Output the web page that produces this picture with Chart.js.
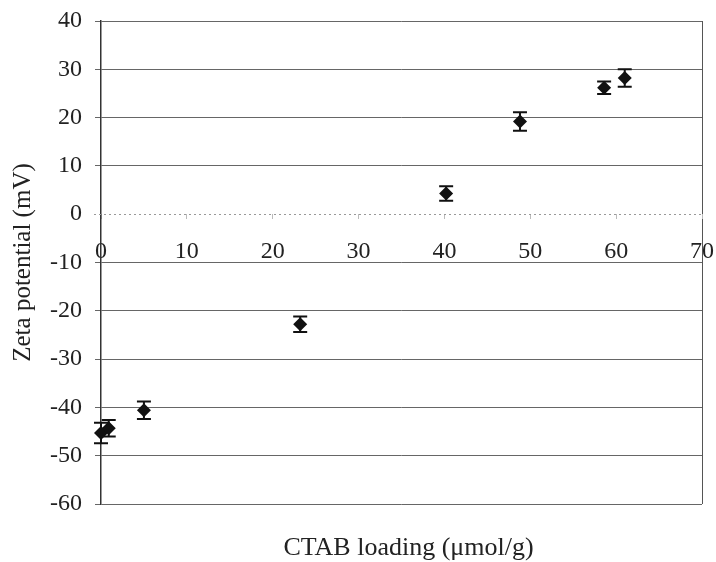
<!DOCTYPE html>
<html>
<head>
<meta charset="utf-8">
<script src="https://cdn.jsdelivr.net/npm/chart.js@4"></script>
<style>
  html, body { margin: 0; padding: 0; background: #fff; }
  #wrap { width: 716px; height: 562px; }
</style>
</head>
<body>
<div id="wrap"><canvas id="chart-area"></canvas></div>
<script>
// CTAB loading (umol/g) vs zeta potential (mV)
const loading = [0, 0.9, 5.0, 23.2, 40.2, 48.8, 58.6, 61.0];
const zeta = [-45.3, -44.3, -40.6, -22.8, 4.3, 19.2, 26.2, 28.2];
const zetaErr = [2.1, 1.7, 1.8, 1.6, 1.5, 1.9, 1.3, 1.8];
const xTitle = 'CTAB loading (\u03bcmol/g)';
const yTitle = 'Zeta potential (mV)';

const serif = 'Liberation Serif, Times New Roman, serif';
const ink = '#222';

// error bars drawn under the diamonds, dotted zero line, x caption
const extras = {
  id: 'extras',
  beforeDatasetsDraw(chart) {
    const ctx = chart.ctx;
    const xs = chart.scales.x, ys = chart.scales.y;
    const area = chart.chartArea;
    ctx.save();
    // dotted line at y = 0
    const y0 = Math.round(ys.getPixelForValue(0)) + 0.5;
    ctx.strokeStyle = '#999';
    ctx.lineWidth = 1;
    ctx.setLineDash([2, 3]);
    ctx.beginPath();
    ctx.moveTo(area.left - 7, y0);
    ctx.lineTo(area.right, y0);
    ctx.stroke();
    ctx.setLineDash([]);

    ctx.strokeStyle = '#111';
    ctx.lineWidth = 2;
    loading.forEach((v, i) => {
      const px = xs.getPixelForValue(v);
      const top = ys.getPixelForValue(zeta[i] + zetaErr[i]);
      const bot = ys.getPixelForValue(zeta[i] - zetaErr[i]);
      ctx.beginPath();
      ctx.moveTo(px, top); ctx.lineTo(px, bot);
      ctx.moveTo(px - 7, top); ctx.lineTo(px + 7, top);
      ctx.moveTo(px - 7, bot); ctx.lineTo(px + 7, bot);
      ctx.stroke();
    });
    ctx.restore();
  },
  afterDraw(chart) {
    const ctx = chart.ctx;
    const area = chart.chartArea;
    ctx.save();
    ctx.fillStyle = ink;
    ctx.font = '26px ' + serif;
    ctx.textAlign = 'center';
    ctx.textBaseline = 'middle';
    ctx.fillText(xTitle, (area.left + area.right) / 2 + 7, area.bottom + 44);
    ctx.restore();
  }
};

const ctx = document.getElementById('chart-area').getContext('2d');
new Chart(ctx, {
  type: 'scatter',
  data: {
    datasets: [{
      data: loading.map((v, i) => ({x: v, y: zeta[i]})),
      pointStyle: 'rectRot',
      pointRadius: 7,
      pointHoverRadius: 7,
      backgroundColor: '#111',
      borderColor: '#111',
      borderWidth: 0,
      clip: false
    }]
  },
  options: {
    responsive: true,
    maintainAspectRatio: false,
    animation: false,
    layout: { padding: { top: 21, right: 14, bottom: 58, left: 0 } },
    plugins: {
      legend: { display: false },
      tooltip: { enabled: false }
    },
    scales: {
      x: {
        type: 'linear',
        min: 0, max: 70,
        position: { y: 0 },
        afterFit: s => { s.paddingLeft = 0; s.paddingRight = 0; },
        ticks: { stepSize: 10, color: ink, padding: 18, font: { family: serif, size: 24 } },
        grid: {
          color: c => c.tick && c.tick.value === 70 ? '#555' : 'transparent',
          tickColor: '#bbb',
          tickLength: 5,
          lineWidth: 1
        },
        border: { display: false }
      },
      y: {
        min: -60, max: 40,
        afterFit: s => { s.width = 101; s.paddingTop = 0; s.paddingBottom = 0; },
        ticks: { stepSize: 10, color: ink, padding: 13, font: { family: serif, size: 24 } },
        grid: {
          color: c => c.tick && c.tick.value === 0 ? 'transparent' : '#666',
          tickLength: 6,
          lineWidth: 1
        },
        border: { display: true, color: '#333', width: 1.5 },
        title: {
          display: true,
          text: yTitle,
          color: ink,
          font: { family: serif, size: 25 },
          padding: { top: 8, bottom: 0 }
        }
      }
    }
  },
  plugins: [extras]
});
</script>
</body>
</html>
